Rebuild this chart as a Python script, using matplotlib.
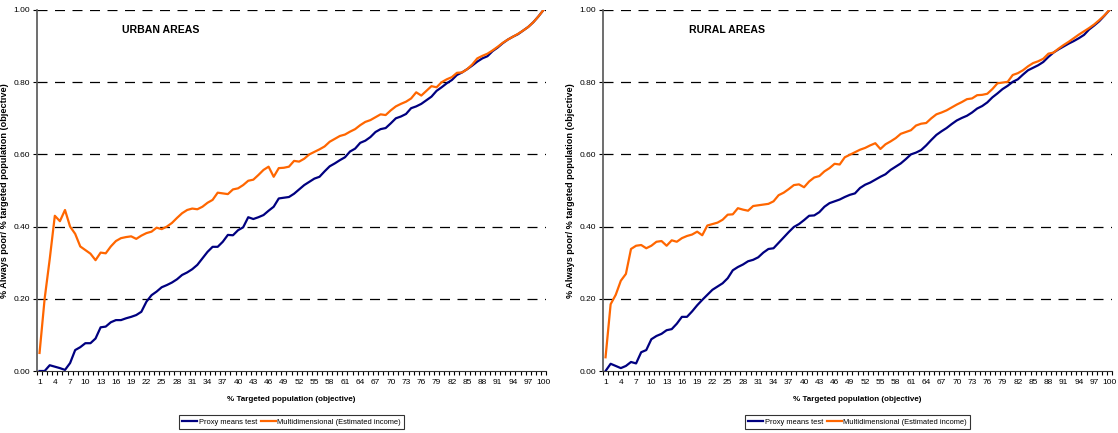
import numpy as np
import matplotlib
matplotlib.use("Agg")
import matplotlib.pyplot as plt
from matplotlib.ticker import FixedLocator, FuncFormatter

plt.rcParams['font.family'] = ['Liberation Sans', 'DejaVu Sans']

# % targeted population (categories 1..100)
pct_targeted = list(range(1, 101))
tick_labels = [str(k) for k in range(1, 101, 3)]

urban_pmt = [
    0.000, 0.000, 0.016, 0.012, 0.008, 0.003, 0.022, 0.058, 0.066, 0.077,
    0.077, 0.090, 0.121, 0.123, 0.135, 0.141, 0.141, 0.146, 0.150, 0.155,
    0.164, 0.192, 0.210, 0.220, 0.232, 0.238, 0.245, 0.254, 0.266, 0.273,
    0.282, 0.294, 0.312, 0.330, 0.344, 0.344, 0.358, 0.377, 0.376, 0.390,
    0.398, 0.426, 0.421, 0.426, 0.432, 0.444, 0.455, 0.478, 0.480, 0.482,
    0.491, 0.503, 0.515, 0.524, 0.533, 0.538, 0.553, 0.567, 0.575, 0.584,
    0.592, 0.608, 0.616, 0.632, 0.638, 0.648, 0.662, 0.670, 0.673, 0.686,
    0.700, 0.705, 0.712, 0.728, 0.733, 0.740, 0.750, 0.760, 0.776, 0.786,
    0.797, 0.806, 0.820, 0.827, 0.836, 0.846, 0.857, 0.866, 0.872, 0.886,
    0.896, 0.908, 0.918, 0.926, 0.933, 0.943, 0.953, 0.966, 0.982, 1.000,
]
urban_multi = [
    0.050, 0.200, 0.310, 0.430, 0.415, 0.446, 0.400, 0.380, 0.345, 0.335,
    0.325, 0.307, 0.328, 0.326, 0.345, 0.360, 0.368, 0.371, 0.373, 0.366,
    0.375, 0.382, 0.386, 0.397, 0.393, 0.400, 0.410, 0.424, 0.437, 0.446,
    0.450, 0.448, 0.455, 0.466, 0.474, 0.494, 0.492, 0.490, 0.503, 0.506,
    0.515, 0.527, 0.530, 0.543, 0.557, 0.566, 0.538, 0.562, 0.563, 0.566,
    0.582, 0.580, 0.588, 0.600, 0.607, 0.614, 0.622, 0.635, 0.643, 0.651,
    0.655, 0.663, 0.670, 0.681, 0.690, 0.695, 0.703, 0.711, 0.709, 0.722,
    0.733, 0.740, 0.746, 0.755, 0.772, 0.763, 0.776, 0.789, 0.786, 0.800,
    0.808, 0.814, 0.826, 0.827, 0.836, 0.849, 0.866, 0.873, 0.879, 0.888,
    0.898, 0.909, 0.918, 0.926, 0.934, 0.943, 0.953, 0.966, 0.982, 1.000,
]
rural_pmt = [
    0.000, 0.020, 0.014, 0.008, 0.014, 0.025, 0.021, 0.052, 0.058, 0.088,
    0.097, 0.103, 0.113, 0.116, 0.131, 0.150, 0.150, 0.165, 0.182, 0.197,
    0.211, 0.225, 0.234, 0.243, 0.257, 0.279, 0.288, 0.295, 0.304, 0.308,
    0.315, 0.328, 0.338, 0.340, 0.355, 0.370, 0.385, 0.399, 0.407, 0.418,
    0.430, 0.431, 0.440, 0.455, 0.465, 0.470, 0.475, 0.482, 0.488, 0.492,
    0.507, 0.516, 0.522, 0.530, 0.538, 0.545, 0.557, 0.566, 0.575, 0.587,
    0.600, 0.605, 0.612, 0.625, 0.640, 0.654, 0.664, 0.673, 0.684, 0.694,
    0.701, 0.707, 0.716, 0.727, 0.734, 0.744, 0.758, 0.769, 0.781, 0.790,
    0.801, 0.808, 0.821, 0.833, 0.840, 0.847, 0.856, 0.870, 0.882, 0.891,
    0.899, 0.907, 0.914, 0.922, 0.931, 0.946, 0.957, 0.969, 0.984, 1.000,
]
rural_multi = [
    0.038, 0.185, 0.211, 0.250, 0.269, 0.338, 0.347, 0.349, 0.340, 0.347,
    0.358, 0.360, 0.347, 0.362, 0.358, 0.368, 0.374, 0.378, 0.386, 0.376,
    0.403, 0.407, 0.411, 0.419, 0.433, 0.434, 0.451, 0.447, 0.444, 0.457,
    0.459, 0.461, 0.463, 0.470, 0.487, 0.494, 0.504, 0.515, 0.517, 0.509,
    0.525, 0.536, 0.540, 0.553, 0.562, 0.574, 0.572, 0.592, 0.599, 0.606,
    0.613, 0.618, 0.625, 0.631, 0.615, 0.628, 0.636, 0.645, 0.657, 0.662,
    0.667, 0.680, 0.685, 0.687, 0.700, 0.711, 0.716, 0.722, 0.730, 0.738,
    0.745, 0.753, 0.755, 0.764, 0.765, 0.768, 0.781, 0.797, 0.799, 0.801,
    0.820, 0.825, 0.833, 0.844, 0.853, 0.858, 0.865, 0.879, 0.882, 0.893,
    0.903, 0.912, 0.922, 0.932, 0.941, 0.950, 0.960, 0.972, 0.985, 1.000,
]

panels = [
    ("URBAN AREAS", urban_pmt, urban_multi, [37 / 1118, 62 / 433, 509 / 1118, 361 / 433]),
    ("RURAL AREAS", rural_pmt, rural_multi, [603 / 1118, 62 / 433, 509 / 1118, 361 / 433]),
]

fig = plt.figure(figsize=(11.18, 4.33), dpi=100)

for title, pmt, multi, rect in panels:
    ax = fig.add_axes(rect)
    x = np.array(pct_targeted)
    ax.plot(x, pmt, color="#000080", lw=1.6, label="Proxy means test")
    ax.plot(x, multi, color="#FF6600", lw=1.6, label="Multidimensional (Estimated income)")

    ax.set_xlim(0.5, 100.5)
    ax.set_ylim(0, 1.0)

    # category labels every 3, tick marks between categories
    ax.xaxis.set_major_locator(FixedLocator(list(range(1, 101, 3))))
    ax.set_xticklabels(tick_labels)
    ax.xaxis.set_minor_locator(FixedLocator(np.arange(0.5, 101, 1.0)))
    ax.tick_params(axis="x", which="major", length=0, labelsize=6, pad=6)
    ax.tick_params(axis="x", which="minor", length=3, width=0.8, direction="out")

    ax.set_yticks(np.arange(0, 1.01, 0.2))
    ax.yaxis.set_major_formatter(FuncFormatter(lambda v, p: f"{v:.2f}"))
    ax.tick_params(axis="y", length=3, width=0.8, labelsize=6, pad=2)

    for y in [0.2, 0.4, 0.6, 0.8, 1.0]:
        ax.axhline(y, color="black", lw=0.9, ls=(0, (8, 6)), zorder=0)

    for s in ["top", "right"]:
        ax.spines[s].set_visible(False)
    ax.spines["left"].set_color("#555555")
    ax.spines["bottom"].set_color("#333333")
    ax.spines["left"].set_linewidth(1.2)

    ax.text(0.243, 0.945, title, transform=ax.transAxes, ha="center", va="center",
            fontsize=7.6, fontweight="bold")
    ax.set_xlabel("% Targeted population (objective)", fontsize=5.8, fontweight="bold", labelpad=7)
    ax.set_ylabel("% Always poor/ % targeted population (objective)", fontsize=6.6,
                  fontweight="bold", labelpad=3)

    leg = ax.legend(loc="center", bbox_to_anchor=(0.5, -0.142), ncol=2, fontsize=5.4,
                    frameon=True, fancybox=False, edgecolor="black", handlelength=2.0,
                    handletextpad=0.2, columnspacing=0.5, borderpad=0.45)
    leg.get_frame().set_linewidth(0.8)

fig.savefig("out.png", dpi=100)
